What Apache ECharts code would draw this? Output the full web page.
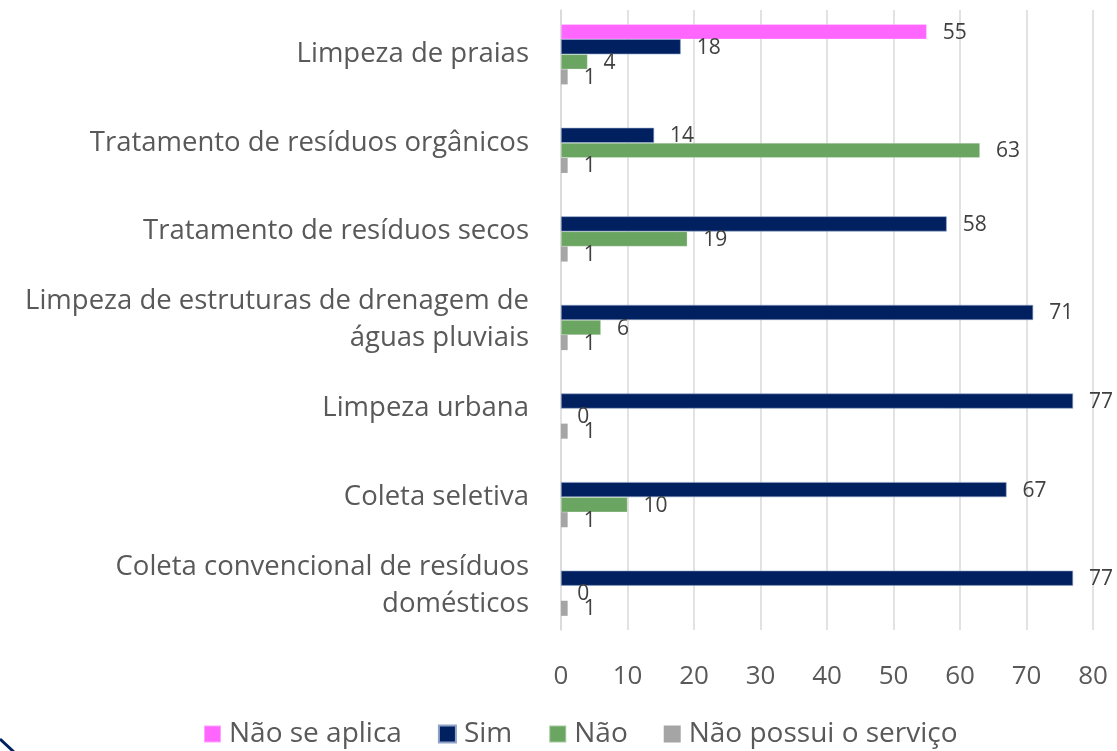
<!DOCTYPE html>
<html>
<head>
<meta charset="utf-8">
<script src="https://cdn.jsdelivr.net/npm/echarts@6/dist/echarts.min.js"></script>
<style>
  html, body { margin: 0; padding: 0; background: #fff; }
  #chart { width: 1117px; height: 751px; }
</style>
</head>
<body>
<div id="chart"></div>
<script>
// categorias (de baixo para cima, como no eixo)
const categories = [
  'Coleta convencional de resíduos\ndomésticos',
  'Coleta seletiva',
  'Limpeza urbana',
  'Limpeza de estruturas de drenagem de\náguas pluviais',
  'Tratamento de resíduos secos',
  'Tratamento de resíduos orgânicos',
  'Limpeza de praias',
]
const naoSeAplica = [null, null, null, null, null, null, 55]
const sim = [77, 67, 77, 71, 58, 14, 18]
const nao = [0, 10, 0, 6, 19, 63, 4]
const naoPossui = [1, 1, 1, 1, 1, 1, 1]
const xTicks = [0, 80, 10] // min, max, intervalo

const FONT = '"Open Sans"'
const COLORS = {
  'Não se aplica': '#FF66FF',
  'Sim': '#002060',
  'Não': '#6BA562',
  'Não possui o serviço': '#A5A5A5',
}

const seriesData = [
  ['Não se aplica', naoSeAplica],
  ['Sim', sim],
  ['Não', nao],
  ['Não possui o serviço', naoPossui],
]

const chart = echarts.init(document.getElementById('chart'))

chart.setOption({
  backgroundColor: '#fff',
  animation: false,
  textStyle: { fontFamily: FONT },
  grid: { left: 561, right: 24, top: 10, bottom: 121, containLabel: false },
  xAxis: {
    type: 'value',
    min: xTicks[0],
    max: xTicks[1],
    interval: xTicks[2],
    axisLine: { show: false },
    axisTick: { show: false },
    axisLabel: { color: '#595959', fontSize: 26, margin: 34, fontFamily: FONT },
    splitLine: { lineStyle: { color: '#d9d9d9', width: 1.5 } },
  },
  yAxis: {
    type: 'category',
    data: categories,
    axisLine: { lineStyle: { color: '#d9d9d9', width: 1.5 } },
    axisTick: { show: false },
    axisLabel: {
      color: '#595959',
      fontSize: 27.5,
      lineHeight: 37,
      margin: 32,
      align: 'right',
      fontFamily: FONT,
    },
  },
  legend: {
    left: 198,
    top: 715,
    itemWidth: 17,
    itemHeight: 17,
    itemGap: 36,
    icon: 'rect',
    textStyle: { color: '#595959', fontSize: 28, fontFamily: FONT, padding: [0, 0, 0, 3] },
    data: seriesData.map(([name]) => name),
  },
  series: seriesData.map(([name, values]) => ({
    name,
    type: 'bar',
    data: values,
    barGap: '0%',
    barCategoryGap: '32%',
    itemStyle: {
      color: COLORS[name],
      borderColor: name === 'Sim' ? '#8fa3c8' : 'rgba(255,255,255,0.4)',
      borderWidth: name === 'Não possui o serviço' ? 0 : 0.6,
    },
    label: {
      show: true,
      position: 'right',
      distance: 16,
      offset: [0, 1],
      color: '#404040',
      fontSize: 21,
      fontFamily: FONT,
    },
  })),
  graphic: [
    {
      type: 'line',
      shape: { x1: 0, y1: 739, x2: 14, y2: 752 },
      style: { stroke: '#002060', lineWidth: 3 },
    },
  ],
})
</script>
</body>
</html>
